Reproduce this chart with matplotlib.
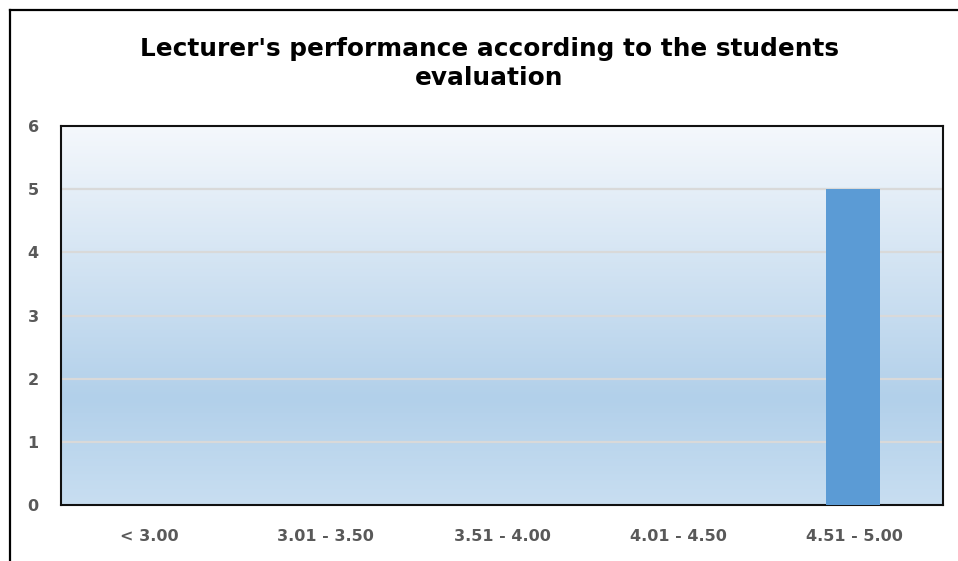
import numpy as np
import matplotlib
matplotlib.use('Agg')
import matplotlib.pyplot as plt
from matplotlib.colors import LinearSegmentedColormap
from matplotlib.lines import Line2D

categories = ['< 3.00', '3.01 - 3.50', '3.51 - 4.00', '4.01 - 4.50', '4.51 - 5.00']
counts = [0, 0, 0, 0, 5]
yticks = [0, 1, 2, 3, 4, 5, 6]

title = "Lecturer's performance according to the students\nevaluation"

fig = plt.figure(figsize=(9.58, 5.61), dpi=100)
ax = fig.add_axes([0.0637, 0.0998, 0.9207, 0.6756])

# gradient background (top white-ish to blue, a bit lighter at the bottom)
grad = LinearSegmentedColormap.from_list('bg', [(0.0, '#F5F8FC'), (0.72, '#B2D0EA'), (1.0, '#C8DEF1')])
ax.imshow(np.linspace(0, 1, 256).reshape(-1, 1), cmap=grad, aspect='auto',
          extent=[-0.5, len(categories) - 0.5, 0, 6], origin='upper', zorder=0)

x = np.arange(len(categories))
ax.bar(x - 0.01, counts, width=0.31, color='#5B9BD5', zorder=3)

ax.set_xlim(-0.5, len(categories) - 0.5)
ax.set_ylim(0, 6)
ax.set_yticks(yticks)
ax.set_xticks(x)
ax.set_xticklabels(categories)
for yv in yticks[1:-1]:
    ax.axhline(yv, color='#D9D9D9', lw=1.6, zorder=1)

ax.tick_params(length=0, labelsize=11.5, labelcolor='#595959')
ax.tick_params(axis='x', pad=17)
ax.tick_params(axis='y', pad=16)
for lab in ax.get_xticklabels() + ax.get_yticklabels():
    lab.set_fontweight('bold')
    lab.set_family('DejaVu Sans')
for sp in ax.spines.values():
    sp.set_linewidth(1.5)
    sp.set_color('#111111')

fig.text(0.511, 0.887, title, ha='center', va='center', fontsize=17.8,
         fontweight='bold', family='DejaVu Sans', linespacing=1.3)

# outer chart border (only top and left visible in the crop)
fig.add_artist(Line2D([0.0105, 1.02], [0.982, 0.982], transform=fig.transFigure, color='black', lw=1.6))
fig.add_artist(Line2D([0.0105, 0.0105], [-0.02, 0.982], transform=fig.transFigure, color='black', lw=1.6))

fig.savefig('out.png', dpi=100)
